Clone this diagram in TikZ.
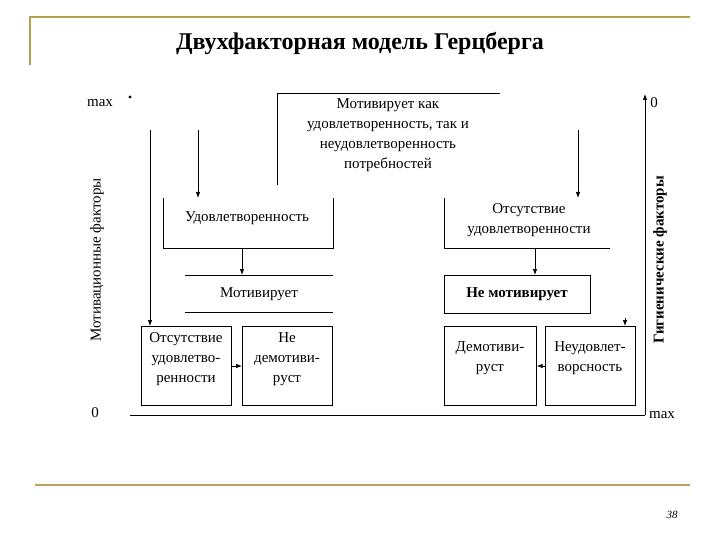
\documentclass[tikz,border=0pt]{standalone}
\usepackage{fontspec}
\setmainfont{Liberation Serif}
\newfontfamily\rs{Liberation Serif}
\usetikzlibrary{arrows.meta}
\begin{document}
\begin{tikzpicture}[x=1pt,y=-1pt,
  lbl/.style={font=\rs\fontsize{15}{19}\selectfont,align=center,inner sep=0pt},
  bx/.style={draw,line width=0.7pt,inner sep=0pt,anchor=north west},
  ob/.style={inner sep=0pt,anchor=north west},
  ln/.style={line width=0.7pt},
  arr/.style={line width=0.7pt,-{Latex[length=6pt,width=4.5pt]}}]
\useasboundingbox (0,0) rectangle (720,540);
\definecolor{gold}{RGB}{176,160,80}
\definecolor{tan}{RGB}{192,160,96}
\draw[gold,line width=1.5pt] (30,65) -- (30,17) -- (690,17);
\draw[tan,line width=2pt] (35,485) -- (690,485);
\node[font=\rs\bfseries\fontsize{24}{28}\selectfont] (title) at (360,44) {Двухфакторная модель Герцберга};
\node[font=\rs\itshape\fontsize{11}{12}\selectfont] (page) at (672,515) {38};
% axes
\node[lbl] (max1) at (100,103) {max};
\fill (130,97) circle (1.6pt);
\node[lbl] (zero1) at (95,413) {0};
\node[lbl] (zero2) at (654,103) {0};
\node[lbl] (max2) at (662,415) {max};
\coordinate (bl) at (130,415);
\coordinate (br) at (645,415);
\coordinate (rt) at (645,94);
\draw[ln] (bl) -- (br);
\draw[arr] (br) -- (rt);
\node[lbl,rotate=90] (mot) at (97,260) {Мотивационные факторы};
\node[lbl,rotate=90,font=\rs\bfseries\fontsize{15}{19}\selectfont] (gig) at (660,260) {Гигиенические факторы};
% top open box
\node[ob,minimum width=223,minimum height=92] (top) at (277,93) {};
\draw[ln] (top.south west) -- (top.north west) -- (top.north east);
\node[lbl,font=\rs\fontsize{15}{20}\selectfont] (toptxt) at (388,135) {Мотивирует как\\удовлетворенность, так и\\неудовлетворенность\\потребностей};
% satisfaction box (open top)
\node[ob,minimum width=170,minimum height=50] (sat) at (163,198) {};
\draw[ln] (sat.north west) -- (sat.south west) -- (sat.south east) -- (sat.north east);
\node[lbl] at (247,218) {Удовлетворенность};
% motivates
\node[ob,minimum width=148,minimum height=37] (motv) at (185,275) {};
\draw[ln] (motv.north west) -- (motv.north east);
\draw[ln] (motv.south west) -- (motv.south east);
\node[lbl] at (259,294) {Мотивирует};
% bottom left boxes
\node[bx,minimum width=90,minimum height=79] (abs) at (141,326) {};
\node[lbl,font=\rs\fontsize{15}{20}\selectfont] at (186,359) {Отсутствие\\удовлетво-\\ренности};
\node[bx,minimum width=90,minimum height=79] (nodem) at (242,326) {};
\node[lbl,font=\rs\fontsize{15}{20}\selectfont] at (287,359) {Не\\демотиви-\\руст};
% right open box
\node[ob,minimum width=166,minimum height=50] (absr) at (444,198) {};
\draw[ln] (absr.north west) -- (absr.south west) -- (absr.south east);
\node[lbl,font=\rs\fontsize{15}{20}\selectfont] at (529,220) {Отсутствие\\удовлетворенности};
\node[bx,minimum width=146,minimum height=38] (nemot) at (444,275) {};
\node[lbl,font=\rs\bfseries\fontsize{15}{19}\selectfont] at (517,294) {Не мотивирует};
\node[bx,minimum width=92,minimum height=79] (dem) at (444,326) {};
\node[lbl,font=\rs\fontsize{15}{20}\selectfont] at (490,358) {Демотиви-\\руст};
\node[bx,minimum width=90,minimum height=79] (neud) at (545,326) {};
\node[lbl,font=\rs\fontsize{15}{20}\selectfont] at (590,358) {Неудовлет-\\ворсность};
% arrows
\coordinate (a1) at (150,130);
\draw[arr] (a1) -- (abs.north west -| a1);
\coordinate (a2) at (198,130);
\draw[arr] (a2) -- (sat.north west -| a2);
\coordinate (a3) at (578,130);
\draw[arr] (a3) -- (absr.north west -| a3);
\coordinate (a4) at (242,248);
\draw[arr] (a4) -- (motv.north west -| a4);
\coordinate (a5) at (535,248);
\draw[arr] (a5) -- (nemot.north west -| a5);
\coordinate (a6) at (625,318);
\draw[arr] (a6) -- (neud.north west -| a6);
\draw[arr] (abs.east |- 0,366) -- (nodem.west |- 0,366);
\draw[arr] (neud.west |- 0,366) -- (dem.east |- 0,366);
\end{tikzpicture}
\end{document}
